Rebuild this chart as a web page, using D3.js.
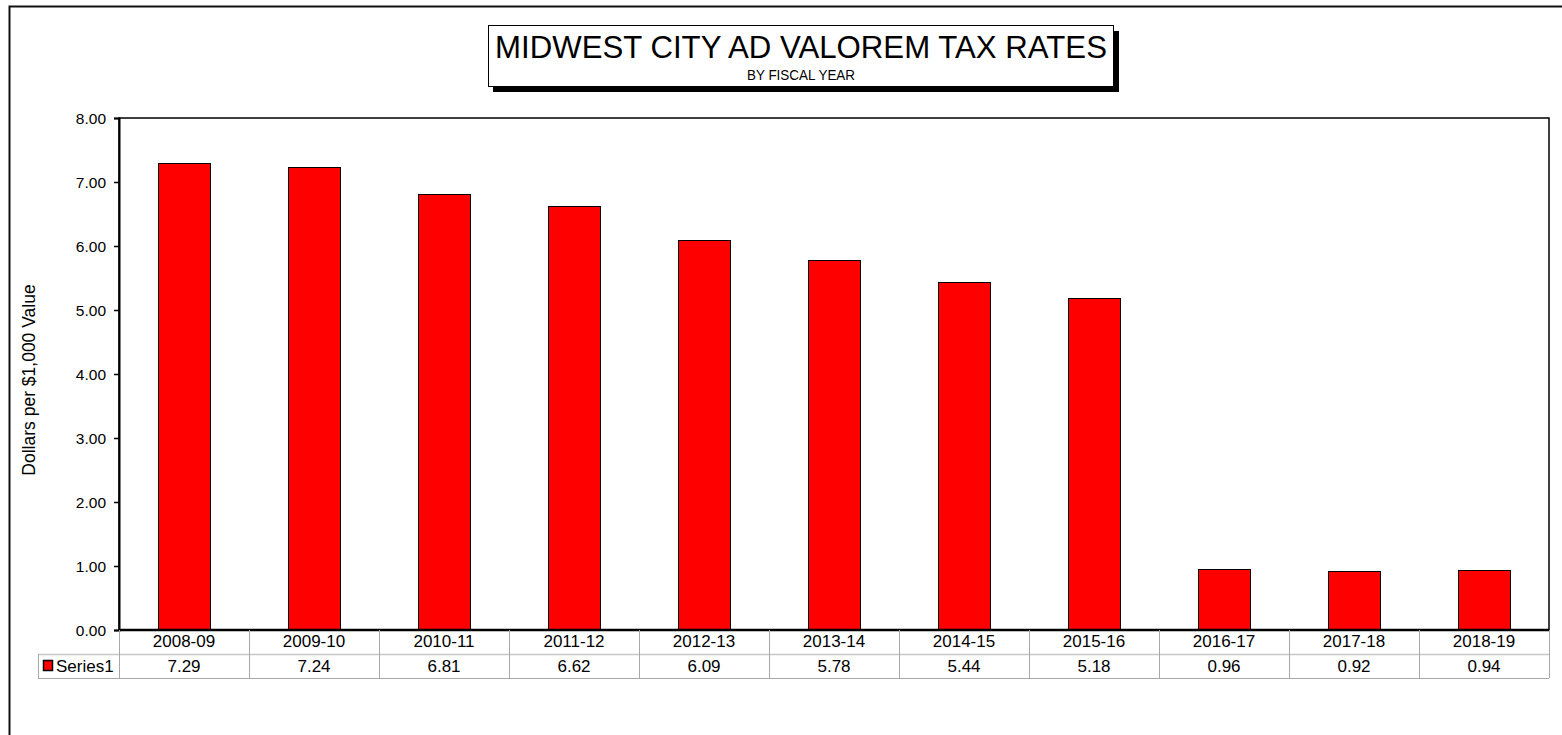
<!DOCTYPE html>
<html><head><meta charset="utf-8">
<script src="https://cdn.jsdelivr.net/npm/d3@7"></script>
<style>
body{margin:0;background:#fff;}
text{font-family:"Liberation Sans",Arial,sans-serif;fill:#000;}
</style></head>
<body>
<svg id="c" width="1562" height="735"></svg>
<script>
const categories = ["2008-09","2009-10","2010-11","2011-12","2012-13","2013-14","2014-15","2015-16","2016-17","2017-18","2018-19"];
const values = [7.29,7.24,6.81,6.62,6.09,5.78,5.44,5.18,0.96,0.92,0.94];
const yTicks = [0,1,2,3,4,5,6,7,8];
const seriesName = "Series1";
const titleText = "MIDWEST CITY AD VALOREM TAX RATES";
const subtitleText = "BY FISCAL YEAR";
const yLabel = "Dollars per $1,000 Value";

const svg = d3.select("#c");
const L = 119, R = 1549, T = 118, B = 630;
const FONT = "Liberation Sans, Arial, sans-serif";

// outer frame
svg.append("rect").attr("x",9.5).attr("y",6.5).attr("width",1600).attr("height",800)
  .attr("fill","none").attr("stroke","#111").attr("stroke-width",2);

const x = d3.scaleBand().domain(categories).range([L,R]).paddingInner(0.6).paddingOuter(0.3);
const xCell = d3.scaleBand().domain(categories).range([L,R]);
const y = d3.scaleLinear().domain([0,8]).range([B,T]);

// plot border
svg.append("rect").attr("x",L).attr("y",T).attr("width",R-L).attr("height",B-T)
  .attr("fill","none").attr("stroke","#000").attr("stroke-width",1.5);

// bars
svg.append("g").selectAll("rect").data(values).join("rect")
  .attr("x",(d,i)=>Math.round(x(categories[i]))+0.5)
  .attr("y",d=>Math.round(y(d))+0.5)
  .attr("width",Math.round(x.bandwidth()))
  .attr("height",d=>B-Math.round(y(d)))
  .attr("fill","#ff0000").attr("stroke","#000").attr("stroke-width",1);

// y axis
const yAxis = d3.axisLeft(y).tickValues(yTicks).tickFormat(d3.format(".2f")).tickSize(5).tickPadding(8);
const ga = svg.append("g").attr("transform",`translate(${L},0)`).call(yAxis)
  .attr("font-size",15.5).attr("font-family",FONT);
ga.select(".domain").attr("stroke","#000").attr("stroke-width",2);
ga.selectAll(".tick line").attr("stroke","#000").attr("stroke-width",1.5);
ga.selectAll(".tick text").attr("fill","#000").attr("dy","0.36em");

// bottom axis line
svg.append("line").attr("x1",L).attr("x2",R).attr("y1",B).attr("y2",B).attr("stroke","#000").attr("stroke-width",2.5);

// y label
svg.append("text").attr("transform",`translate(35,${380}) rotate(-90)`)
  .attr("text-anchor","middle").attr("font-size",17.5).text(yLabel);

// data table
const tb = svg.append("g");
const r1 = B, r2 = 654, r3 = 678;
tb.append("line").attr("x1",38).attr("x2",R).attr("y1",r2+0.5).attr("y2",r2+0.5).attr("stroke","#c8c8c8").attr("stroke-width",1.5);
tb.append("line").attr("x1",38).attr("x2",R).attr("y1",r3+0.5).attr("y2",r3+0.5).attr("stroke","#a8a8a8").attr("stroke-width",1);
tb.append("line").attr("x1",38.5).attr("x2",38.5).attr("y1",r2).attr("y2",r3).attr("stroke","#a8a8a8");
const bounds = categories.map(c=>xCell(c)).concat([R]);
tb.selectAll("line.v").data(bounds).join("line").attr("class","v")
  .attr("x1",d=>Math.round(d)+0.5).attr("x2",d=>Math.round(d)+0.5).attr("y1",r1).attr("y2",r3)
  .attr("stroke","#a8a8a8").attr("stroke-width",1);
tb.selectAll("text.cat").data(categories).join("text").attr("class","cat")
  .attr("x",d=>xCell(d)+xCell.bandwidth()/2).attr("y",647).attr("text-anchor","middle")
  .attr("font-size",17).text(d=>d);
tb.selectAll("text.val").data(values).join("text").attr("class","val")
  .attr("x",(d,i)=>xCell(categories[i])+xCell.bandwidth()/2).attr("y",672).attr("text-anchor","middle")
  .attr("font-size",17).text(d=>d3.format(".2f")(d));
tb.append("rect").attr("x",43.5).attr("y",660.5).attr("width",9).attr("height",10)
  .attr("fill","#ff0000").attr("stroke","#000").attr("stroke-width",1.5);
tb.append("text").attr("x",56).attr("y",672).attr("font-size",17).text(seriesName);

// title box
svg.append("rect").attr("x",493).attr("y",31).attr("width",626).attr("height",61).attr("fill","#000");
svg.append("rect").attr("x",488.5).attr("y",25.5).attr("width",625).attr("height",61)
  .attr("fill","#fff").attr("stroke","#000").attr("stroke-width",1);
svg.append("text").attr("x",801).attr("y",58).attr("text-anchor","middle")
  .attr("font-size",31.5).attr("textLength",612).attr("lengthAdjust","spacingAndGlyphs").text(titleText);
svg.append("text").attr("x",801).attr("y",80).attr("text-anchor","middle")
  .attr("font-size",15).attr("textLength",108).attr("lengthAdjust","spacingAndGlyphs").text(subtitleText);
</script>
</body></html>
